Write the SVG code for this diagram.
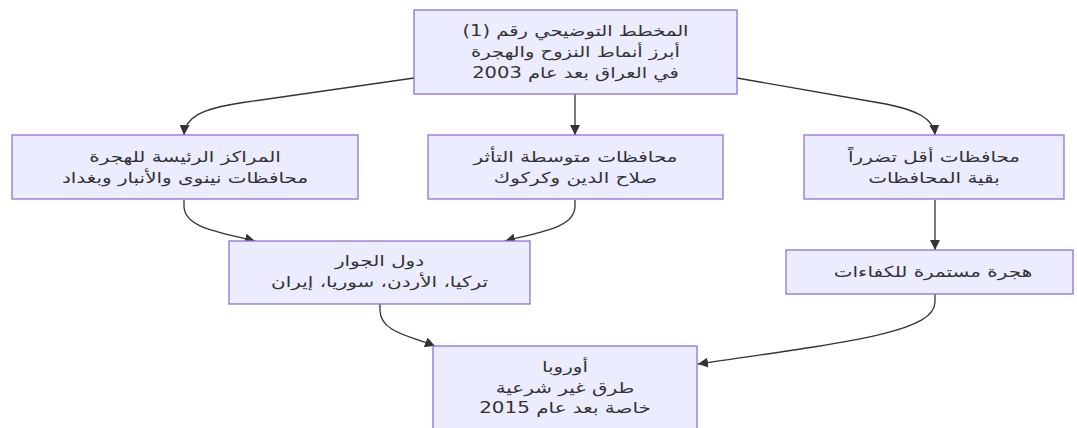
<svg xmlns="http://www.w3.org/2000/svg" width="1077" height="428" viewBox="0 0 1077 428">
<style>
.node rect{fill:#ECECFF;stroke:#9370DB;stroke-width:1.3}
.node text{font-family:"DejaVu Sans","Noto Sans",sans-serif;font-size:15px;fill:#333333;text-anchor:middle;dominant-baseline:central;direction:rtl}
.edges path{fill:none;stroke:#333333;stroke-width:1.3}
</style>
<defs>
<marker id="arr" viewBox="0 0 10 10" refX="10" refY="5" markerWidth="10" markerHeight="10" markerUnits="userSpaceOnUse" orient="auto">
<path d="M0,0 L10,5 L0,10 z" fill="#333333"/>
</marker>
</defs>
<rect width="1077" height="428" fill="#ffffff"/>
<g class="edges">
<path d="M414,78 L240,103 C200,109 185,118 184,135" marker-end="url(#arr)"/>
<path d="M575,94 L575,135" marker-end="url(#arr)"/>
<path d="M737,78 L880,103 C920,110 934,120 935,135" marker-end="url(#arr)"/>
<path d="M184,200 L184,206 C184,228 220,232 255,241" marker-end="url(#arr)"/>
<path d="M575,200 L575,206 C575,228 540,232 505,241" marker-end="url(#arr)"/>
<path d="M935,200 L935,250" marker-end="url(#arr)"/>
<path d="M380,304 L380,310 C380,332 410,336 435,346" marker-end="url(#arr)"/>
<path d="M935,294 L935,302 C935,332 850,342 698,364" marker-end="url(#arr)"/>
</g>
<g id="top" class="node">
<rect x="414" y="10" width="323" height="84"/>
<text transform="translate(575.5,31) scale(1.3,1)">المخطط التوضيحي رقم (1)</text>
<text transform="translate(575.5,52) scale(1.3,1)">أبرز أنماط النزوح والهجرة</text>
<text transform="translate(575.5,73) scale(1.3,1)">في العراق بعد عام 2003</text>
</g>
<g id="main" class="node">
<rect x="12" y="135" width="346" height="64"/>
<text transform="translate(185,157) scale(1.33,1)">المراكز الرئيسة للهجرة</text>
<text transform="translate(185,178) scale(1.33,1)">محافظات نينوى والأنبار وبغداد</text>
</g>
<g id="medium" class="node">
<rect x="428" y="135" width="295" height="64"/>
<text transform="translate(575.5,157) scale(1.33,1)">محافظات متوسطة التأثر</text>
<text transform="translate(575.5,178) scale(1.33,1)">صلاح الدين وكركوك</text>
</g>
<g id="less" class="node">
<rect x="804" y="135" width="260" height="64"/>
<text transform="translate(934,157) scale(1.33,1)">محافظات أقل تضرراً</text>
<text transform="translate(934,178) scale(1.33,1)">بقية المحافظات</text>
</g>
<g id="neighbors" class="node">
<rect x="229" y="241" width="301" height="63"/>
<text transform="translate(379.5,261) scale(1.33,1)">دول الجوار</text>
<text transform="translate(379.5,282) scale(1.33,1)">تركيا، الأردن، سوريا، إيران</text>
</g>
<g id="brain" class="node">
<rect x="786" y="250" width="287" height="44"/>
<text transform="translate(933,272) scale(1.33,1)">هجرة مستمرة للكفاءات</text>
</g>
<g id="europe" class="node">
<rect x="433" y="346" width="264" height="90"/>
<text transform="translate(565,367) scale(1.33,1)">أوروبا</text>
<text transform="translate(565,388) scale(1.33,1)">طرق غير شرعية</text>
<text transform="translate(565,408) scale(1.33,1)">خاصة بعد عام 2015</text>
</g>
</svg>
